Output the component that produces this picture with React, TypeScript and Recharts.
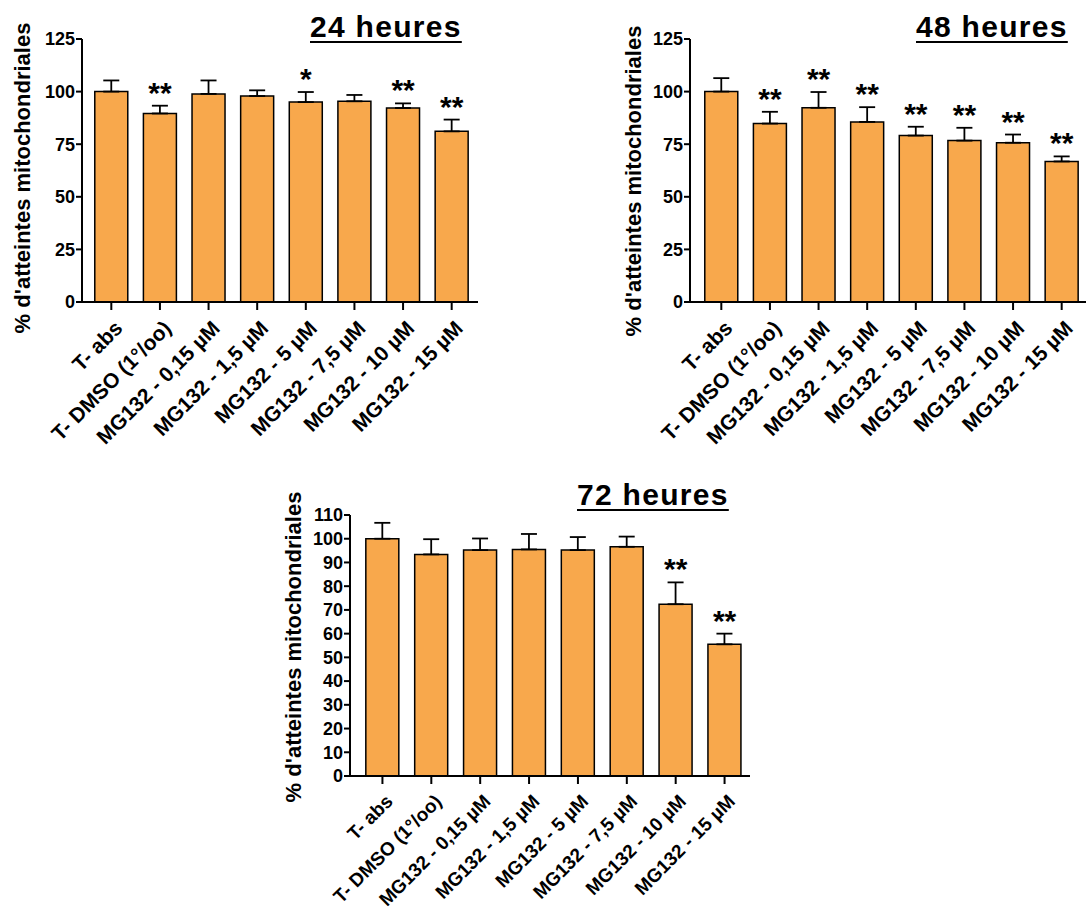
import { Bar, ComposedChart, ErrorBar, Line, XAxis, YAxis } from "recharts";

const conditions = [
  "T- abs",
  "T- DMSO (1°/oo)",
  "MG132 - 0,15 µM",
  "MG132 - 1,5 µM",
  "MG132 - 5 µM",
  "MG132 - 7,5 µM",
  "MG132 - 10 µM",
  "MG132 - 15 µM",
];

const means24h = [100, 89.6, 98.9, 97.9, 95, 95.4, 92.2, 81.1];
const sem24h = [5.3, 3.7, 6.4, 2.7, 4.8, 3.0, 2.2, 5.6];
const stars24h = ["", "**", "", "", "*", "", "**", "**"];

const means48h = [100, 84.8, 92.3, 85.6, 79.1, 76.7, 75.7, 66.8];
const sem48h = [6.4, 5.6, 7.5, 7.0, 4.2, 6.1, 3.9, 2.4];
const stars48h = ["", "**", "**", "**", "**", "**", "**", "**"];

const means72h = [100, 93.4, 95.2, 95.5, 95.2, 96.6, 72.4, 55.5];
const sem72h = [6.7, 6.4, 4.9, 6.5, 5.5, 4.3, 9.2, 4.5];
const stars72h = ["", "", "", "", "", "", "**", "**"];

const ticks125 = [0, 25, 50, 75, 100, 125];
const ticks110 = [0, 10, 20, 30, 40, 50, 60, 70, 80, 90, 100, 110];

const yTitle = "% d'atteintes mitochondriales";
const FONT = "'Liberation Sans', Arial, sans-serif";
const ORANGE = "#F8A84C";

type Row = { name: string; mean: number; err: [number, number]; top: number; sig: string };

function buildRows(means: number[], sems: number[], stars: string[]): Row[] {
  return conditions.map((name, i) => ({
    name,
    mean: means[i],
    err: [0, sems[i]],
    top: means[i] + sems[i],
    sig: stars[i],
  }));
}

function AngledTick(props: any) {
  const { x, y, payload, fontSize } = props;
  const px = x + 2;
  const py = y + 1;
  return (
    <text
      x={px}
      y={py}
      dy="0.71em"
      textAnchor="end"
      transform={`rotate(-45, ${px}, ${py})`}
      fontFamily={FONT}
      fontWeight="bold"
      fontSize={fontSize}
      fill="#000"
    >
      {payload.value}
    </text>
  );
}

function StarDot(props: any) {
  const { cx, cy, payload, index } = props;
  if (!payload.sig) return <g key={`s-${index}`} />;
  return (
    <text
      key={`s-${index}`}
      x={cx}
      y={cy - 3}
      textAnchor="middle"
      fontFamily={FONT}
      fontWeight="bold"
      fontSize={30}
      fill="#000"
    >
      {payload.sig}
    </text>
  );
}

type PanelProps = {
  rows: Row[];
  ticks: number[];
  left: number;
  top: number;
  width: number;
  height: number;
  axisWidth: number;
  margin: { top: number; right: number; bottom: number; left: number };
  xHeight: number;
  xFont: number;
  padding: { left: number; right: number };
  title: string;
  titleLeft: number;
  titleTop: number;
  labelX: number;
  labelY: number;
};

function Panel(p: PanelProps) {
  const max = p.ticks[p.ticks.length - 1];
  return (
    <>
      <div style={{ position: "absolute", left: p.left, top: p.top }}>
        <ComposedChart width={p.width} height={p.height} data={p.rows} margin={p.margin} barCategoryGap="16%">
          <XAxis
            dataKey="name"
            interval={0}
            height={p.xHeight}
            padding={p.padding}
            axisLine={{ stroke: "#000", strokeWidth: 2 }}
            tickLine={{ stroke: "#000", strokeWidth: 2 }}
            tickSize={8}
            tickMargin={8}
            tick={<AngledTick fontSize={p.xFont} />}
          />
          <YAxis
            width={p.axisWidth}
            domain={[0, max]}
            ticks={p.ticks}
            interval={0}
            axisLine={{ stroke: "#000", strokeWidth: 2 }}
            tickLine={{ stroke: "#000", strokeWidth: 2 }}
            tickSize={6}
            tickMargin={1}
            tick={{ fill: "#000", fontSize: 18, fontWeight: "bold", fontFamily: FONT }}
          />
          <Bar dataKey="mean" fill={ORANGE} stroke="#000" strokeWidth={1.5} isAnimationActive={false}>
            <ErrorBar dataKey="err" width={8} stroke="#000" strokeWidth={1.8} direction="y" />
          </Bar>
          <Line
            dataKey="top"
            stroke="none"
            dot={<StarDot />}
            activeDot={false}
            isAnimationActive={false}
          />
        </ComposedChart>
      </div>
      <div
        style={{
          position: "absolute",
          left: p.titleLeft,
          top: p.titleTop,
          fontFamily: FONT,
          fontWeight: "bold",
          fontSize: 30,
          lineHeight: "30px",
          letterSpacing: 1.3,
          textDecoration: "underline",
          textDecorationThickness: 2,
          textUnderlineOffset: 4,
          whiteSpace: "nowrap",
        }}
      >
        {p.title}
      </div>
      <div
        style={{
          position: "absolute",
          left: p.labelX,
          top: p.labelY,
          transform: "translate(-50%, -50%) rotate(-90deg)",
          fontFamily: FONT,
          fontWeight: "bold",
          fontSize: 22,
          whiteSpace: "nowrap",
        }}
      >
        {yTitle}
      </div>
    </>
  );
}

export default function App() {
  return (
    <div style={{ position: "relative", width: 1086, height: 910, background: "#fff", overflow: "hidden" }}>
      <style>{"body{margin:0}"}</style>
      <Panel
        rows={buildRows(means24h, sem24h, stars24h)}
        ticks={ticks125}
        left={0}
        top={0}
        width={490}
        height={450}
        axisWidth={82}
        margin={{ top: 39, right: 12, bottom: 8, left: 0 }}
        xHeight={140}
        xFont={21}
        padding={{ left: 5, right: 2 }}
        title="24 heures"
        titleLeft={310}
        titleTop={12}
        labelX={23}
        labelY={178}
      />
      <Panel
        rows={buildRows(means48h, sem48h, stars48h)}
        ticks={ticks125}
        left={600}
        top={0}
        width={486}
        height={450}
        axisWidth={90}
        margin={{ top: 39, right: 0, bottom: 8, left: 0 }}
        xHeight={140}
        xFont={21}
        padding={{ left: 7, right: 0 }}
        title="48 heures"
        titleLeft={916}
        titleTop={12}
        labelX={634}
        labelY={181}
      />
      <Panel
        rows={buildRows(means72h, sem72h, stars72h)}
        ticks={ticks110}
        left={270}
        top={470}
        width={490}
        height={440}
        axisWidth={80}
        margin={{ top: 45, right: 10, bottom: 4, left: 0 }}
        xHeight={130}
        xFont={19}
        padding={{ left: 8, right: 1 }}
        title="72 heures"
        titleLeft={577}
        titleTop={480}
        labelX={294}
        labelY={647}
      />
    </div>
  );
}
